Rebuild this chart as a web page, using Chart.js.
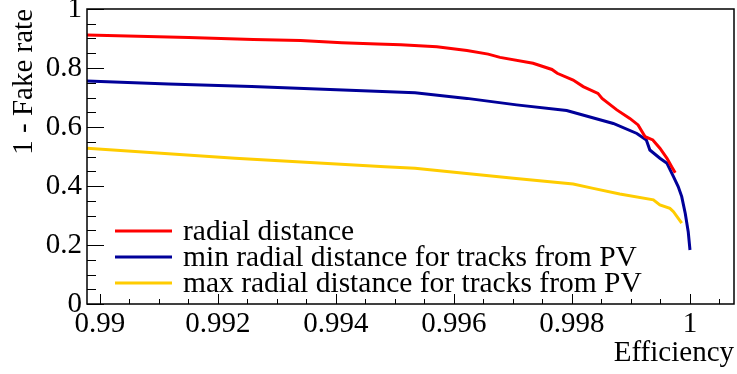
<!DOCTYPE html>
<html>
<head>
<meta charset="utf-8">
<script src="https://cdn.jsdelivr.net/npm/chart.js@4/dist/chart.umd.min.js"></script>
<style>
  body { margin: 0; background: #fff; }
  canvas { display: block; }
  .preload { position: absolute; left: -9999px; top: 0; font-family: 'Liberation Serif'; font-size: 29px; }
</style>
</head>
<body>
<div class="preload">Efficiency 0.996 1 - Fake rate</div>
<canvas id="roc" width="737" height="374"></canvas>
<script>
// Valeurs (efficacité, 1 - taux de faux)
const seriesNames = ['radial distance', 'min radial distance for tracks from PV', 'max radial distance for tracks from PV'];
const seriesColors = ['#ff0000', '#000099', '#ffcc00'];

const radialEff = [0.98978, 0.9915, 0.9926, 0.9934, 0.9941, 0.9947, 0.9951, 0.99571, 0.99622, 0.99658, 0.99678, 0.99734, 0.99766, 0.99775, 0.99802, 0.99819, 0.99844, 0.99851, 0.99876, 0.99898, 0.99912, 0.99924, 0.99937, 0.99949, 0.99961, 0.99969, 0.99975];
const radialRate = [0.912, 0.903, 0.897, 0.893, 0.886, 0.881, 0.879, 0.872, 0.859, 0.847, 0.836, 0.816, 0.795, 0.782, 0.759, 0.737, 0.714, 0.697, 0.658, 0.629, 0.607, 0.567, 0.556, 0.528, 0.494, 0.465, 0.445];

const minEff = [0.98978, 0.99116, 0.99257, 0.99534, 0.99622, 0.99706, 0.99791, 0.99870, 0.99910, 0.99926, 0.99932, 0.99949, 0.99961, 0.99972, 0.99980, 0.99986, 0.99992, 0.99997, 1.0];
const minRate = [0.756, 0.746, 0.737, 0.716, 0.697, 0.675, 0.656, 0.612, 0.578, 0.556, 0.522, 0.494, 0.477, 0.432, 0.398, 0.364, 0.307, 0.245, 0.183];

const maxEff = [0.98978, 0.99229, 0.99483, 0.99534, 0.99588, 0.99701, 0.99802, 0.99836, 0.99881, 0.99938, 0.99949, 0.99966, 0.99972, 0.99986];
const maxRate = [0.528, 0.494, 0.465, 0.460, 0.449, 0.426, 0.407, 0.392, 0.373, 0.353, 0.336, 0.324, 0.313, 0.274];

// Graduations
const xMajor = [0.99, 0.992, 0.994, 0.996, 0.998, 1];
const xLabels = ['0.99', '0.992', '0.994', '0.996', '0.998', '1'];
const yMajor = [0, 0.2, 0.4, 0.6, 0.8, 1];
const yLabels = ['0', '0.2', '0.4', '0.6', '0.8', '1'];
const xStep = 0.0005;
const yStep = 0.05;

const FONT = "'Liberation Serif', serif";

function toPoints(xs, ys) {
    return xs.map((x, i) => ({ x: x, y: ys[i] }));
}

function ticksFrom(min, max, step) {
    const out = [];
    const n = Math.round((max - min) / step);
    for (let i = 0; i <= n; i++) out.push({ value: +(min + i * step).toFixed(6) });
    return out;
}

function majorLabel(value, majors, labels) {
    const i = majors.findIndex(m => Math.abs(m - value) < 1e-7);
    return i >= 0 ? labels[i] : '';
}

// Cadre, graduations internes et légende façon ROOT
const rootFrame = {
    id: 'rootFrame',
    afterDraw(chart) {
        const ctx = chart.ctx;
        const a = chart.chartArea;
        const xs = chart.scales.x, ys = chart.scales.y;
        ctx.save();
        ctx.strokeStyle = '#000';
        ctx.lineWidth = 1.5;
        ctx.strokeRect(a.left, a.top, a.right - a.left, a.bottom - a.top);

        ctx.lineWidth = 1;
        ctx.beginPath();
        xs.ticks.forEach(t => {
            const px = Math.round(xs.getPixelForValue(t.value)) + 0.5;
            if (px < a.left || px > a.right) return;
            const len = majorLabel(t.value, xMajor, xLabels) ? 10 : 5;
            ctx.moveTo(px, a.bottom);
            ctx.lineTo(px, a.bottom - len);
        });
        ys.ticks.forEach(t => {
            const py = Math.round(ys.getPixelForValue(t.value)) + 0.5;
            const len = majorLabel(t.value, yMajor, yLabels) ? 17 : 9;
            ctx.moveTo(a.left, py);
            ctx.lineTo(a.left + len, py);
        });
        ctx.stroke();

        // légende
        const rowY = [231, 257, 283];
        ctx.font = '29.5px ' + FONT;
        ctx.textBaseline = 'middle';
        ctx.fillStyle = '#000';
        chart.data.datasets.forEach((ds, i) => {
            ctx.strokeStyle = ds.borderColor;
            ctx.lineWidth = 3;
            ctx.beginPath();
            ctx.moveTo(115, rowY[i]);
            ctx.lineTo(172, rowY[i]);
            ctx.stroke();
            ctx.fillText(ds.label, 183, rowY[i] + 1);
        });
        ctx.restore();
    }
};

const datasets = [
    [radialEff, radialRate],
    [minEff, minRate],
    [maxEff, maxRate]
].map((s, i) => ({
    label: seriesNames[i],
    data: toPoints(s[0], s[1]),
    borderColor: seriesColors[i],
    borderWidth: 3,
    pointRadius: 0,
    tension: 0,
    fill: false
}));

function drawChart() {
    new Chart(document.getElementById('roc'), {
        type: 'line',
        data: { datasets: datasets },
        options: {
            responsive: false,
            devicePixelRatio: 1,
            animation: false,
            layout: { padding: { top: 9, right: 3, left: 0, bottom: 0 } },
            plugins: { legend: { display: false }, tooltip: { enabled: false } },
            scales: {
                x: {
                    type: 'linear',
                    min: 0.98978,
                    max: 1.000746,
                    afterBuildTicks: s => { s.ticks = ticksFrom(0.99, 1.0005, xStep); },
                    afterFit: s => { s.height = 70; s.paddingLeft = 0; s.paddingRight = 0; },
                    grid: { display: false, drawTicks: false },
                    border: { display: false },
                    ticks: {
                        autoSkip: false,
                        maxRotation: 0,
                        padding: 3,
                        color: '#000',
                        font: { family: FONT, size: 29 },
                        callback: v => majorLabel(v, xMajor, xLabels)
                    },
                    title: {
                        display: true,
                        text: 'Efficiency',
                        align: 'end',
                        color: '#000',
                        font: { family: FONT, size: 29 },
                        padding: { top: 0, bottom: 3 }
                    }
                },
                y: {
                    type: 'linear',
                    min: 0,
                    max: 1,
                    afterBuildTicks: s => { s.ticks = ticksFrom(0, 1, yStep); },
                    afterFit: s => { s.width = 87; s.paddingTop = 0; s.paddingBottom = 0; },
                    grid: { display: false, drawTicks: false },
                    border: { display: false },
                    ticks: {
                        autoSkip: false,
                        padding: 5,
                        color: '#000',
                        font: { family: FONT, size: 29 },
                        callback: v => majorLabel(v, yMajor, yLabels)
                    },
                    title: {
                        display: true,
                        text: '1 - Fake rate',
                        align: 'end',
                        color: '#000',
                        font: { family: FONT, size: 29 },
                        padding: { top: 7, bottom: 0 }
                    }
                }
            }
        },
        plugins: [rootFrame]
    });
}

document.fonts.load("29px 'Liberation Serif'").then(drawChart, drawChart);
</script>
</body>
</html>
